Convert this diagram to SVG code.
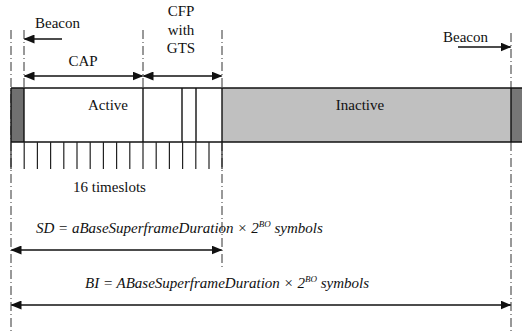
<svg xmlns="http://www.w3.org/2000/svg" width="522" height="331" viewBox="0 0 522 331">
<style>
text{font-family:'Liberation Serif','Times New Roman',Times,serif;font-size:15px;fill:#111}
.it{font-style:italic}
.dash{stroke:#333;stroke-width:1;stroke-dasharray:9 3 1 3;fill:none}
.arr{stroke:#111;stroke-width:1.7;fill:none}
.ln{stroke:#111;stroke-width:1.4}
.tick{stroke:#222;stroke-width:1.2}
</style>
<defs>
<marker id="ah" markerUnits="userSpaceOnUse" markerWidth="11" markerHeight="9" refX="10" refY="4.5" orient="auto-start-reverse">
<path d="M0,0 L11,4.5 L0,9 z" fill="#111"/>
</marker>
</defs>
<rect width="522" height="331" fill="#fff"/>
<g id="guides">
<line class="dash" x1="11" y1="30" x2="11" y2="331"/>
<line class="dash" x1="24" y1="30" x2="24" y2="88"/>
<line class="dash" x1="143" y1="30" x2="143" y2="88"/>
<line class="dash" x1="222" y1="30" x2="222" y2="88"/>
<line class="dash" x1="222" y1="142" x2="222" y2="270"/>
<line class="dash" x1="511" y1="33" x2="511" y2="88"/>
<line class="dash" x1="511" y1="142" x2="511" y2="331"/>
</g>
<g id="bar">
<rect x="11" y="88" width="13" height="54" fill="#707070"/>
<rect x="222" y="88" width="289" height="54" fill="#c0c0c0"/>
<rect x="511" y="88" width="11" height="54" fill="#767676"/>
<line class="ln" x1="11" y1="88" x2="522" y2="88"/>
<line class="ln" x1="11" y1="142" x2="522" y2="142"/>
<line class="ln" x1="11" y1="88" x2="11" y2="142"/>
<line class="ln" x1="24" y1="88" x2="24" y2="142"/>
<line class="ln" x1="143" y1="88" x2="143" y2="142"/>
<line class="ln" x1="182" y1="88" x2="182" y2="142"/>
<line class="ln" x1="196" y1="88" x2="196" y2="142"/>
<line class="ln" x1="222" y1="88" x2="222" y2="142"/>
<line class="ln" x1="511" y1="88" x2="511" y2="142"/>
</g>
<g id="active"><text x="88" y="110">Active</text></g>
<g id="inactive"><text x="360" y="110" text-anchor="middle">Inactive</text></g>
<g id="timeslots">
<g class="tick">
<line x1="11" y1="142" x2="11" y2="169"/>
<line x1="24.2" y1="142" x2="24.2" y2="169"/>
<line x1="37.4" y1="142" x2="37.4" y2="169"/>
<line x1="50.6" y1="142" x2="50.6" y2="169"/>
<line x1="63.8" y1="142" x2="63.8" y2="169"/>
<line x1="77" y1="142" x2="77" y2="169"/>
<line x1="90.2" y1="142" x2="90.2" y2="169"/>
<line x1="103.4" y1="142" x2="103.4" y2="169"/>
<line x1="116.6" y1="142" x2="116.6" y2="169"/>
<line x1="129.8" y1="142" x2="129.8" y2="169"/>
<line x1="143" y1="142" x2="143" y2="169"/>
<line x1="156.2" y1="142" x2="156.2" y2="169"/>
<line x1="169.4" y1="142" x2="169.4" y2="169"/>
<line x1="182.6" y1="142" x2="182.6" y2="169"/>
<line x1="195.8" y1="142" x2="195.8" y2="169"/>
<line x1="209" y1="142" x2="209" y2="169"/>
<line x1="222" y1="142" x2="222" y2="169"/>
</g>
<text x="73" y="192">16 timeslots</text>
</g>
<g id="beacon-left"><text x="35" y="28">Beacon</text></g>
<g id="cap"><text x="83" y="66" text-anchor="middle">CAP</text></g>
<g id="cfp">
<text x="181" y="16" text-anchor="middle">CFP</text>
<text x="181" y="35" text-anchor="middle">with</text>
<text x="181" y="53" text-anchor="middle">GTS</text>
</g>
<g id="beacon-right"><text x="443" y="42">Beacon</text></g>
<g id="sd"><text class="it" x="36" y="233">SD = aBaseSuperframeDuration × 2<tspan font-size="9" dy="-6">BO</tspan><tspan dy="6"> symbols</tspan></text></g>
<g id="bi"><text class="it" x="85" y="288">BI = ABaseSuperframeDuration × 2<tspan font-size="9" dy="-6">BO</tspan><tspan dy="6"> symbols</tspan></text></g>
<g id="connectors">
<line class="arr" x1="62" y1="39" x2="24.5" y2="39" marker-end="url(#ah)"/>
<line class="arr" x1="24.5" y1="76" x2="142.5" y2="76" marker-start="url(#ah)" marker-end="url(#ah)"/>
<line class="arr" x1="143.5" y1="76" x2="221.5" y2="76" marker-start="url(#ah)" marker-end="url(#ah)"/>
<line class="arr" x1="458" y1="47" x2="510.5" y2="47" marker-end="url(#ah)"/>
<line class="arr" x1="11.5" y1="250" x2="221.5" y2="250" marker-start="url(#ah)" marker-end="url(#ah)"/>
<line class="arr" x1="11.5" y1="305" x2="510.5" y2="305" marker-start="url(#ah)" marker-end="url(#ah)"/>
</g>
</svg>
